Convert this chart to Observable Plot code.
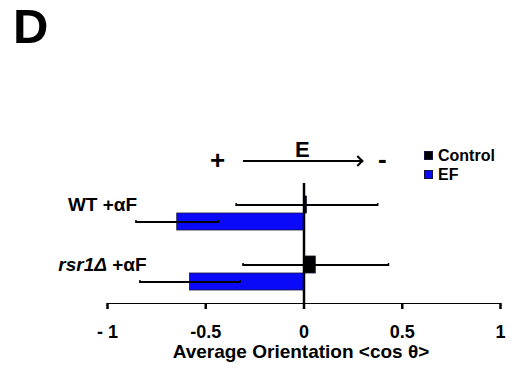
<!DOCTYPE html>
<html><head><meta charset="utf-8">
<script src="https://cdn.jsdelivr.net/npm/d3@7"></script>
<script src="https://cdn.jsdelivr.net/npm/@observablehq/plot@0.6"></script>
<style>
body{margin:0;background:#fff;}
#wrap{position:relative;width:527px;height:372px;font-family:"Liberation Sans",Arial,sans-serif;font-weight:bold;color:#000;}
#wrap svg{position:absolute;left:0;top:0;}
.ov{position:absolute;white-space:nowrap;line-height:1;}
#wrap svg [aria-label*="x-axis"] path,
#wrap svg [aria-label*="x-axis"] line{stroke-width:2.5px !important;stroke:#000 !important;}
</style></head>
<body><div id="wrap"></div>
<script>
// ---- data ----
const groups = ["WT", "rsr1"];
const groupLabels = ["WT +αF", "rsr1Δ +αF"];
const seriesNames = ["Control", "EF"];
const controlMeans = [0.015, 0.06];
const controlSems = [0.36, 0.37];
const efMeans = [-0.645, -0.58];
const efSems = [0.21, 0.255];
const xTicks = [-1, -0.5, 0, 0.5, 1];
const xTickLabels = ["- 1", "-0.5", "0", "0.5", "1"];
const seriesColors = ["#000000", "#0a0af8"];
const axisTitle = "Average Orientation <cos θ>";

const rows = [];
groups.forEach((g, i) => {
  rows.push({group: g, series: "Control", mean: controlMeans[i], sem: controlSems[i]});
  rows.push({group: g, series: "EF", mean: efMeans[i], sem: efSems[i]});
});

const chart = Plot.plot({
  width: 527,
  height: 372,
  marginTop: 183,
  marginBottom: 69,
  marginLeft: 107,
  marginRight: 27,
  style: {fontFamily: '"Liberation Sans", Arial, sans-serif', fontWeight: "bold", fontSize: "18px", background: "transparent", color: "#000"},
  x: {domain: [-1, 1], ticks: xTicks, tickFormat: d => xTickLabels[xTicks.indexOf(d)], tickSize: 6, tickPadding: 16, line: true, label: null},
  y: {domain: seriesNames, paddingInner: 0, paddingOuter: 0.667, axis: null},
  fy: {domain: groups, padding: 0, axis: null},
  color: {domain: seriesNames, range: seriesColors},
  marks: [
    Plot.barX(rows, {x: "mean", y: "series", fy: "group", fill: "series", stroke: "#14143c", strokeWidth: 0.8}),
    Plot.ruleY(rows, {x1: d => d.mean - d.sem, x2: d => d.mean + d.sem, y: "series", fy: "group", stroke: "#000", strokeWidth: 2}),
    Plot.tickX(rows, {x: d => d.mean - d.sem, y: "series", fy: "group", stroke: "#000", strokeWidth: 1.5, insetTop: 7, insetBottom: 7}),
    Plot.tickX(rows, {x: d => d.mean + d.sem, y: "series", fy: "group", stroke: "#000", strokeWidth: 1.5, insetTop: 7, insetBottom: 7}),
    Plot.ruleX([0], {stroke: "#000", strokeWidth: 2.5}),
    Plot.text(groups, {fy: d => d, y: () => "Control", text: d => groupLabels[groups.indexOf(d)], frameAnchor: "left", dx: -5, dy: 0, textAnchor: "middle", fontSize: 19, fill: "#000"})
  ]
});

// italic gene name in the rsr1 label
d3.select(chart).selectAll("text").each(function() {
  const t = this.textContent;
  if (t.startsWith("rsr1Δ")) {
    const sel = d3.select(this);
    sel.text(null);
    sel.append("tspan").attr("font-style", "italic").text("rsr1Δ");
    sel.append("tspan").text(t.slice(5));
  }
});

const wrap = document.getElementById("wrap");
wrap.appendChild(chart);

function ov(text, left, top, size, extra) {
  const d = document.createElement("div");
  d.className = "ov";
  d.textContent = text;
  d.style.left = left + "px";
  d.style.top = top + "px";
  d.style.fontSize = size + "px";
  if (extra) Object.assign(d.style, extra);
  wrap.appendChild(d);
  return d;
}
// panel letter
ov("D", 13, 7, 49, {lineHeight: "0.8"});
// field direction annotation
ov("+", 210, 147, 26);
ov("E", 295, 139, 22);
ov("-", 378, 146, 26);
const line = document.createElement("div");
line.style.cssText = "position:absolute;left:243px;top:160px;width:119px;height:0;border-top:2px solid #000;";
wrap.appendChild(line);
const head = document.createElement("div");
head.style.cssText = "position:absolute;left:354px;top:157px;width:6px;height:6px;border-top:2px solid #000;border-right:2px solid #000;transform:rotate(45deg);";
wrap.appendChild(head);
// legend
const legTops = [148, 166.5];
seriesNames.forEach((s, i) => {
  const sq = document.createElement("div");
  sq.style.cssText = `position:absolute;left:424px;top:${legTops[i] + 3}px;width:9px;height:9px;background:${seriesColors[i]};box-sizing:border-box;border:1px solid #14143c;`;
  wrap.appendChild(sq);
  ov(s, 438, legTops[i], 16, {lineHeight: "15px"});
});
// axis title
ov(axisTitle, 101, 342, 19, {width: "400px", textAlign: "center"});
</script>
</body></html>
